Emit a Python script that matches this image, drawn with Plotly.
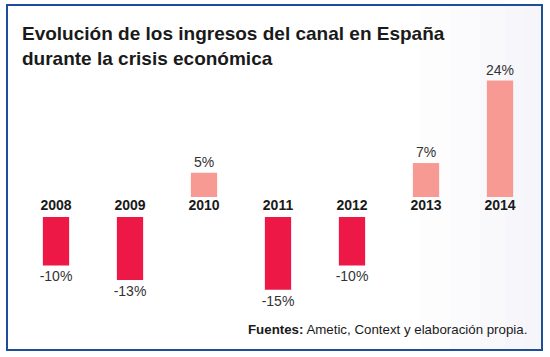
import plotly.graph_objects as go

years = ["2008", "2009", "2010", "2011", "2012", "2013", "2014"]
values = [-10, -13, 5, -15, -10, 7, 24]
labels = ["-10%", "-13%", "5%", "-15%", "-10%", "7%", "24%"]

title_line1 = "Evolución de los ingresos del canal en España"
title_line2 = "durante la crisis económica"
source_text = "<b>Fuentes:</b> Ametic, Context y elaboración propia."

NEG_COLOR = "#EE1846"
POS_COLOR = "#F79A93"
GAP = 4.12  # gap (in % units) between positive baseline and negative baseline, holds year labels

W, H = 550, 357
PX_PER_UNIT = 4.85
zero_px = 197
y_hi = zero_px / PX_PER_UNIT
y_lo = -(H - zero_px) / PX_PER_UNIT

cat_px0 = 56
cat_step = 74
x_lo = -cat_px0 / cat_step
x_hi = (W - cat_px0) / cat_step

bases = [0 if v > 0 else -GAP for v in values]
colors = [POS_COLOR if v > 0 else NEG_COLOR for v in values]

fig = go.Figure()
fig.add_trace(go.Bar(
    x=years, y=values, base=bases,
    marker=dict(color=colors, line=dict(width=0)),
    width=0.355,
    text=labels, textposition="outside", constraintext="none",
    textfont=dict(family="Liberation Sans", size=14, color="#333333"),
    cliponaxis=False, hoverinfo="skip",
))
fig.add_trace(go.Scatter(
    x=years, y=[-GAP / 2] * len(years), mode="text",
    text=["<b>%s</b>" % y for y in years],
    textfont=dict(family="Liberation Sans", size=14, color="#1a1a1a"),
    textposition="middle center", cliponaxis=False, hoverinfo="skip",
))

def px(x):
    return x / W

def py(y):
    return 1 - y / H

shapes = []
# subtle right-side gradient
for i, x0 in enumerate([420, 450, 480, 505, 525]):
    shapes.append(dict(type="rect", xref="paper", yref="paper",
                       x0=px(x0), x1=px(542), y0=py(350), y1=py(5),
                       fillcolor="rgba(225,232,243,0.07)", line=dict(width=0), layer="below"))
shapes.append(dict(type="rect", xref="paper", yref="paper",
                   x0=px(7), x1=px(542), y0=py(350), y1=py(5),
                   line=dict(color="#1C4E9A", width=2), fillcolor="rgba(0,0,0,0)"))

annotations = [
    dict(text="<b>%s</b>" % title_line1, xref="paper", yref="paper", x=px(20), y=py(33),
         xanchor="left", yanchor="middle", showarrow=False,
         font=dict(family="Liberation Sans", size=19, color="#1a1a1a")),
    dict(text="<b>%s</b>" % title_line2, xref="paper", yref="paper", x=px(20), y=py(59),
         xanchor="left", yanchor="middle", showarrow=False,
         font=dict(family="Liberation Sans", size=19, color="#1a1a1a")),
    dict(text=source_text, xref="paper", yref="paper", x=px(529), y=py(329),
         xanchor="right", yanchor="middle", showarrow=False,
         font=dict(family="Liberation Sans", size=13.3, color="#1a1a1a")),
]

fig.update_layout(
    width=W, height=H,
    margin=dict(l=0, r=0, t=0, b=0),
    paper_bgcolor="white", plot_bgcolor="rgba(0,0,0,0)",
    showlegend=False,
    xaxis=dict(range=[x_lo, x_hi], visible=False, type="category"),
    yaxis=dict(range=[y_lo, y_hi], visible=False),
    shapes=shapes, annotations=annotations,
)

fig.write_html("out.html", config={"displayModeBar": False},
               post_script="document.body.style.margin='0';document.body.style.overflow='hidden';")
